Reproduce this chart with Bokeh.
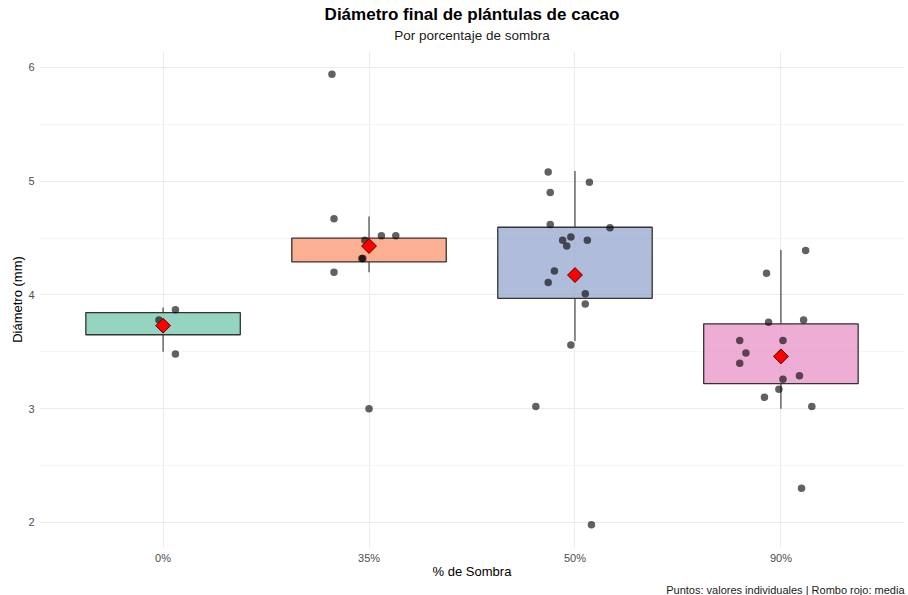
import numpy as np
from bokeh.plotting import figure
from bokeh.models import Range1d, FixedTicker, SingleIntervalTicker, Title, ColumnDataSource
from bokeh.embed import file_html
from bokeh.resources import INLINE

# ---------------- data ----------------
categories = ["0%", "35%", "50%", "90%"]
box_colors = ["#66C2A5", "#FC8D62", "#8DA0CB", "#E78AC3"]

# box statistics per category
q1 = [3.65, 4.29, 3.97, 3.22]
median = [3.80, 4.49, 4.445, 3.445]
q3 = [3.845, 4.50, 4.595, 3.746]
whisk_lo = [3.50, 4.20, 3.596, 3.00]
whisk_hi = [3.89, 4.69, 5.09, 4.395]
means = [3.73, 4.43, 4.175, 3.46]

# individual values and their horizontal jitter (category units)
vals_0 = [3.87, 3.48, 3.78]
jit_0 = [0.06, 0.06, -0.02]
vals_35 = [5.94, 4.67, 4.52, 4.52, 4.48, 4.32, 4.32, 4.20, 3.00]
jit_35 = [-0.18, -0.17, 0.06, 0.13, -0.02, -0.03, -0.035, -0.17, 0.00]
vals_50 = [5.08, 4.99, 4.90, 4.62, 4.59, 4.48, 4.51, 4.48, 4.43, 4.21, 4.11, 4.01, 3.92, 3.56, 3.02, 1.98]
jit_50 = [-0.13, 0.07, -0.12, -0.12, 0.17, -0.06, -0.02, 0.06, -0.04, -0.10, -0.13, 0.05, 0.05, -0.02, -0.19, 0.08]
vals_90 = [4.39, 4.19, 3.76, 3.78, 3.60, 3.60, 3.49, 3.40, 3.29, 3.26, 3.17, 3.10, 3.02, 2.30]
jit_90 = [0.12, -0.07, -0.06, 0.11, -0.20, 0.01, -0.17, -0.20, 0.09, 0.01, -0.01, -0.08, 0.15, 0.10]

y_ticks = [2, 3, 4, 5, 6]

# ---------------- figure ----------------
FONT = "Liberation Sans"
pos = [1, 2, 3, 4]

p = figure(frame_width=865, frame_height=496, output_backend="svg", toolbar_location=None,
           x_range=Range1d(0.4, 4.6), y_range=Range1d(1.78, 6.14),
           min_border_left=39, min_border_right=2, min_border_top=51, min_border_bottom=0)
p.title = None
p.outline_line_color = None
p.background_fill_color = "white"
p.border_fill_color = "white"

# titles (first added sits closest to the plot frame)
p.add_layout(Title(text=" ", text_font=FONT, text_font_size="4px", standoff=0), "above")
p.add_layout(Title(text="Por porcentaje de sombra", align="center", text_font=FONT,
                   text_font_size="13.5px", text_font_style="normal", text_color="#1a1a1a",
                   standoff=4), "above")
p.add_layout(Title(text="Diámetro final de plántulas de cacao", align="center", text_font=FONT,
                   text_font_size="17px", text_font_style="bold", text_color="black",
                   standoff=0), "above")
p.add_layout(Title(text="Puntos: valores individuales | Rombo rojo: media", align="right",
                   text_font=FONT, text_font_size="11px", text_font_style="normal",
                   text_color="#1a1a1a", standoff=1), "below")

# axes
p.xaxis.ticker = FixedTicker(ticks=pos)
p.xaxis.major_label_overrides = {i: c for i, c in zip(pos, categories)}
p.yaxis.ticker = SingleIntervalTicker(interval=1, num_minor_ticks=2)
for ax in (p.xaxis, p.yaxis):
    ax.axis_line_color = None
    ax.major_tick_line_color = None
    ax.minor_tick_line_color = None
    ax.major_tick_out = 0
    ax.major_tick_in = 0
    ax.minor_tick_out = 0
    ax.minor_tick_in = 0
    ax.major_label_text_font = FONT
    ax.major_label_text_font_size = "11px"
    ax.major_label_text_color = "#4D4D4D"
    ax.axis_label_text_font = FONT
    ax.axis_label_text_font_size = "13px"
    ax.axis_label_text_font_style = "normal"
    ax.axis_label_text_color = "black"
p.xaxis.major_label_standoff = 4
p.xaxis.axis_label_standoff = -3
p.yaxis.major_label_standoff = 5
p.yaxis.axis_label_standoff = 0
p.xaxis.axis_label = "% de Sombra"
p.yaxis.axis_label = "Diámetro (mm)"

p.xgrid.grid_line_color = "#EBEBEB"
p.xgrid.grid_line_width = 1
p.ygrid.grid_line_color = "#EBEBEB"
p.ygrid.grid_line_width = 1
p.ygrid.minor_grid_line_color = "#F2F2F2"
p.ygrid.minor_grid_line_width = 0.8

# boxes
box_src = ColumnDataSource(dict(x=pos, q1=q1, q3=q3, med=median, lo=whisk_lo, hi=whisk_hi,
                                color=box_colors, mean=means))
p.segment(x0="x", y0="q3", x1="x", y1="hi", source=box_src, line_color="#333333", line_width=1.1)
p.segment(x0="x", y0="q1", x1="x", y1="lo", source=box_src, line_color="#333333", line_width=1.1)
p.vbar(x="x", width=0.75, bottom="q1", top="q3", source=box_src, fill_color="color",
       fill_alpha=0.7, line_color="#333333", line_width=1.3)
p.rect(x="x", y="med", width=0.75, height=0, source=box_src, line_color="#333333",
       line_width=2.6, fill_color=None)

# points
px, py = [], []
for c, (v, j) in enumerate([(vals_0, jit_0), (vals_35, jit_35), (vals_50, jit_50), (vals_90, jit_90)]):
    px += [pos[c] + jj for jj in j]
    py += list(v)
p.scatter(px, py, size=7.5, fill_color="black", fill_alpha=0.62, line_color=None)

# means
p.scatter(x="x", y="mean", source=box_src, marker="square", angle=np.pi / 4, size=10.5,
          fill_color="#FF0000", line_color="#5a0000", line_width=1)

open("out.html", "w").write(file_html(p, INLINE))
